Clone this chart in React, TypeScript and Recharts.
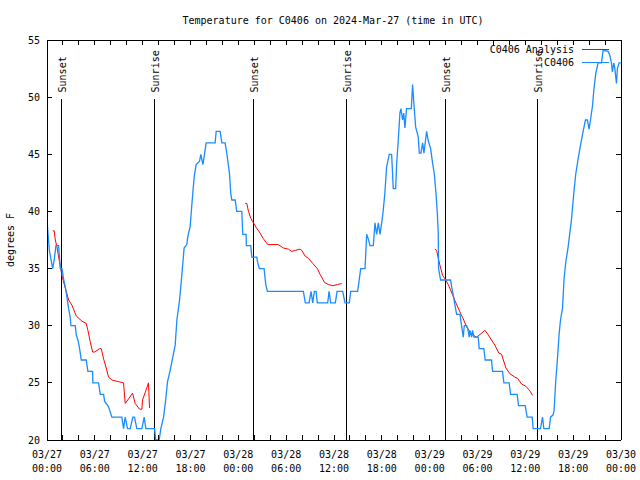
import React from 'react';
import { LineChart, Line, XAxis, YAxis, ReferenceLine } from 'recharts';

const FONT = "'DejaVu Sans Mono', 'Liberation Mono', monospace";
const BLUE = '#1a8cff';
const RED = '#ff0000';

// hours since 2024-03-27 00:00 UTC
const hourTicks = [0, 2, 4, 6, 8, 10, 12, 14, 16, 18, 20, 22, 24, 26, 28, 30, 32, 34, 36, 38, 40, 42, 44, 46, 48, 50, 52, 54, 56, 58, 60, 62, 64, 66, 68, 70, 72];
const dateLabels = ['03/27', '03/27', '03/27', '03/27', '03/28', '03/28', '03/28', '03/28', '03/29', '03/29', '03/29', '03/29', '03/30'];
const timeLabels = ['00:00', '06:00', '12:00', '18:00', '00:00', '06:00', '12:00', '18:00', '00:00', '06:00', '12:00', '18:00', '00:00'];
const tempTicks = [20, 25, 30, 35, 40, 45, 50, 55];

const sunNames = ['Sunset', 'Sunrise', 'Sunset', 'Sunrise', 'Sunset', 'Sunrise'];
const sunHours = [1.83, 13.49, 25.89, 37.55, 49.95, 61.48];

// C0406 observations [hour, degF]
const observed: [number, number][] = [
  [0, 39.2], [0.29, 36.6], [0.5, 35.8], [0.71, 35.0], [0.91, 35.8], [1.12, 37.0], [1.46, 37.0],
  [1.67, 35.0], [1.88, 35.0], [2.08, 34.1], [2.29, 33.4], [2.5, 32.5], [2.71, 31.5], [2.92, 30.7],
  [3.0, 30.0], [3.55, 30.0], [3.67, 29.2], [3.88, 28.75], [4.09, 28.0], [4.3, 27.0], [4.92, 27.0],
  [5.13, 26.0], [5.72, 26.0], [5.75, 25.0], [6.47, 25.0], [6.68, 24.0], [7.1, 24.0], [7.22, 23.4],
  [7.72, 22.9], [8.14, 22.0], [9.39, 22.0], [9.6, 21.0], [9.81, 22.0], [10.1, 21.0], [10.44, 21.0],
  [10.77, 22.0], [10.98, 22.0], [11.27, 21.0], [11.9, 21.0], [12.19, 22.0], [12.4, 21.0], [13.49, 21.0],
  [13.65, 20.0], [14.07, 20.0], [14.28, 21.0], [14.62, 22.0], [14.87, 23.4], [15.12, 25.1], [15.45, 26.1],
  [15.79, 27.3], [16.08, 28.3], [16.29, 30.5], [16.62, 32.2], [16.91, 34.4], [17.2, 36.8], [17.54, 37.1],
  [17.66, 37.8], [17.96, 38.7], [18.17, 40.6], [18.46, 43.0], [18.71, 44.1], [19.13, 44.4], [19.3, 45.0],
  [19.55, 44.1], [19.71, 44.8], [19.96, 46.0], [21.09, 46.0], [21.22, 47.0], [21.72, 47.0], [21.93, 46.0],
  [22.34, 46.0], [22.55, 45.1], [22.89, 43.3], [23.05, 41.6], [23.18, 41.0], [23.6, 41.0], [23.8, 40.0],
  [24.43, 40.0], [24.56, 38.0], [24.98, 38.0], [25.0, 37.0], [25.56, 37.0], [25.69, 36.0], [26.32, 36.0],
  [26.4, 35.6], [26.64, 35.0], [27.23, 35.0], [27.44, 33.6], [27.65, 33.0], [32.16, 33.0], [32.4, 32.0],
  [32.87, 32.0], [33.12, 33.0], [33.33, 32.0], [33.54, 33.0], [33.75, 33.0], [33.91, 32.0], [35.21, 32.0],
  [35.38, 33.0], [35.59, 32.0], [36.17, 32.0], [36.38, 33.0], [37.09, 33.0], [37.38, 32.0], [37.92, 32.0],
  [38.09, 33.0], [38.97, 33.0], [39.14, 33.9], [39.35, 35.0], [39.89, 35.0], [40.1, 38.0], [40.3, 37.6],
  [40.52, 37.0], [40.93, 37.0], [41.14, 39.0], [41.35, 38.0], [41.56, 39.0], [41.77, 38.0], [41.98, 39.0],
  [42.18, 40.1], [42.39, 41.7], [42.6, 43.9], [42.93, 45.0], [43.23, 45.0], [43.43, 42.0], [43.73, 42.0],
  [43.86, 44.2], [44.06, 46.2], [44.27, 48.6], [44.4, 49.0], [44.6, 48.0], [44.75, 48.6], [44.9, 47.3],
  [45.1, 49.0], [45.7, 49.0], [45.86, 51.1], [46.0, 49.6], [46.24, 47.4], [46.57, 46.5], [46.7, 45.1],
  [46.9, 45.1], [47.12, 46.0], [47.28, 45.1], [47.62, 47.0], [47.82, 46.2], [48.12, 45.5], [48.37, 44.2],
  [48.58, 43.3], [48.79, 41.6], [48.95, 40.0], [49.08, 38.0], [49.12, 35.0], [49.37, 34.0], [50.63, 34.0],
  [50.75, 33.4], [50.96, 32.7], [51.17, 31.8], [51.38, 31.0], [51.8, 31.0], [52.0, 30.0], [52.21, 29.0],
  [52.34, 30.0], [52.63, 30.0], [52.76, 29.8], [52.96, 29.0], [53.05, 29.6], [53.26, 29.0], [53.38, 29.6],
  [53.55, 29.0], [54.09, 29.0], [54.21, 28.0], [54.8, 28.0], [54.96, 27.0], [55.76, 27.0], [55.89, 26.0],
  [57.14, 26.0], [57.31, 25.0], [57.97, 25.0], [58.15, 24.0], [58.97, 24.0], [59.15, 23.0], [59.98, 23.0],
  [60.23, 22.0], [60.86, 22.0], [60.98, 21.0], [61.9, 21.0], [62.16, 22.0], [62.32, 21.0], [62.99, 21.0],
  [63.16, 22.0], [63.49, 22.2], [63.61, 22.6], [63.82, 25.25], [63.99, 26.7], [64.24, 29.3], [64.41, 30.5],
  [64.66, 31.5], [64.86, 34.1], [65.08, 35.6], [65.37, 36.9], [65.58, 38.1], [65.79, 39.3], [66.08, 41.6],
  [66.33, 43.3], [66.62, 44.6], [66.92, 45.8], [67.25, 47.0], [67.54, 48.0], [67.79, 48.0], [67.99, 47.2],
  [68.17, 48.0], [68.42, 49.2], [68.59, 50.6], [68.84, 52.1], [69.13, 53.0], [69.55, 53.0], [69.76, 54.1],
  [70.38, 54.0], [70.59, 53.7], [70.8, 53.0], [70.92, 52.2], [71.09, 53.0], [71.21, 52.6], [71.43, 51.2],
  [71.55, 52.5], [71.76, 53.0], [71.97, 53.0],
];

// C0406 Analysis, three runs
const analysisA: [number, number][] = [
  [0.71, 38.3], [0.91, 38.3], [1.04, 37.5], [1.25, 36.9], [1.46, 36.0], [1.67, 35.2], [1.88, 34.35],
  [2.17, 33.6], [2.5, 32.8], [2.71, 32.25], [3.13, 31.8], [3.67, 30.85], [4.38, 30.4], [4.92, 30.2],
  [5.13, 29.6], [5.42, 28.6], [5.72, 27.7], [5.97, 27.7], [6.6, 28.0], [6.8, 28.0], [7.1, 27.1],
  [7.43, 26.3], [7.72, 25.5], [8.14, 25.25], [8.98, 25.1], [9.6, 25.0], [9.81, 23.2], [10.23, 23.6],
  [10.73, 24.1], [11.06, 23.2], [11.6, 22.7], [11.9, 22.7], [11.98, 23.5], [12.44, 24.4], [12.73, 25.0],
  [12.86, 22.8],
];
const analysisB: [number, number][] = [
  [24.85, 40.7], [25.06, 40.7], [25.27, 40.0], [25.56, 39.4], [25.81, 39.1], [26.32, 38.5], [26.64, 38.2],
  [27.15, 37.6], [27.69, 37.1], [29.0, 37.1], [29.66, 36.8], [30.28, 36.7], [30.7, 36.5], [31.2, 36.6],
  [31.74, 36.7], [31.95, 36.6], [32.37, 36.1], [32.79, 35.9], [33.33, 35.45], [33.91, 35.0], [34.25, 34.5],
  [34.8, 33.8], [35.3, 33.6], [35.84, 33.5], [36.42, 33.6], [36.97, 33.7],
];
const analysisC: [number, number][] = [
  [48.66, 36.7], [48.87, 36.6], [49.08, 35.9], [49.29, 35.3], [49.62, 34.4], [50.04, 34.0], [50.46, 33.4],
  [50.87, 32.7], [51.29, 32.0], [51.8, 31.2], [52.21, 30.6], [52.63, 29.9], [53.26, 29.25], [53.88, 29.0],
  [54.43, 29.3], [54.93, 29.6], [55.35, 29.2], [55.76, 28.75], [56.18, 28.3], [56.68, 27.6], [57.02, 27.5],
  [57.56, 26.3], [58.06, 25.8], [58.69, 25.5], [59.03, 25.4], [59.53, 24.9], [60.07, 24.7], [60.57, 24.3],
  [60.9, 23.9],
];

const toRows = (pts: [number, number][]) => pts.map(([h, t]) => ({ h, t }));
const obsData = toRows(observed);
const gap = { h: null as any, t: null as any };
const analysisData = [...toRows(analysisA), { ...gap, h: 18 }, ...toRows(analysisB), { ...gap, h: 42 }, ...toRows(analysisC)];

const tickLine = (x1: number, y1: number, x2: number, y2: number) => (
  <line x1={x1} y1={y1} x2={x2} y2={y2} stroke="#000" shapeRendering="crispEdges" />
);

const BottomTick = ({ x, y, payload }: any) => {
  const v = payload.value as number;
  const i = v / 6;
  return (
    <g>
      {tickLine(x, y, x, y - 5)}
      {v % 6 === 0 && (
        <text textAnchor="middle" fontFamily={FONT} fontSize={10} fill="#000">
          <tspan x={x} y={y + 18}>{dateLabels[i]}</tspan>
          <tspan x={x} y={y + 32}>{timeLabels[i]}</tspan>
        </text>
      )}
    </g>
  );
};

const TopTick = ({ x, y }: any) => <g>{tickLine(x, y, x, y + 5)}</g>;

const LeftTick = ({ x, y, payload }: any) => (
  <g>
    {tickLine(x, y, x + 5, y)}
    <text x={x - 7} y={y} dy={3.6} textAnchor="end" fontFamily={FONT} fontSize={10} fill="#000">
      {payload.value}
    </text>
  </g>
);

const RightTick = ({ x, y }: any) => <g>{tickLine(x, y, x - 5, y)}</g>;

const SunLabel = ({ viewBox, text }: any) => {
  const x = viewBox.x;
  const y = viewBox.y - 7;
  return (
    <text x={x} y={y} dy={4.5} transform={`rotate(-90 ${x} ${y})`} textAnchor="start" fontFamily={FONT} fontSize={10} fill="#000">
      {text}
    </text>
  );
};

const textStyle: React.CSSProperties = {
  position: 'absolute',
  fontFamily: FONT,
  fontSize: 10,
  lineHeight: '12px',
  color: '#000',
  whiteSpace: 'nowrap',
};

export default function App() {
  return (
    <div style={{ position: 'absolute', left: 0, top: 0, width: 640, height: 480, background: '#fff', overflow: 'hidden' }}>
      <LineChart width={640} height={480} margin={{ top: 0, right: 0, bottom: 0, left: 0 }}>
        <XAxis
          xAxisId={0}
          dataKey="h"
          type="number"
          domain={[0, 72]}
          ticks={hourTicks}
          interval={0}
          height={40}
          tickSize={0}
          tickMargin={0}
          tickLine={false}
          axisLine={{ stroke: '#000', shapeRendering: 'crispEdges' }}
          tick={<BottomTick />}
          allowDataOverflow
        />
        <XAxis
          xAxisId="top"
          orientation="top"
          dataKey="h"
          type="number"
          domain={[0, 72]}
          ticks={hourTicks}
          interval={0}
          height={40}
          tickSize={0}
          tickMargin={0}
          tickLine={false}
          axisLine={{ stroke: '#000', shapeRendering: 'crispEdges' }}
          tick={<TopTick />}
          allowDataOverflow
        />
        <YAxis
          yAxisId={0}
          type="number"
          domain={[20, 55]}
          ticks={tempTicks}
          interval={0}
          width={47}
          tickSize={0}
          tickMargin={0}
          tickLine={false}
          axisLine={{ stroke: '#000', shapeRendering: 'crispEdges' }}
          tick={<LeftTick />}
          allowDataOverflow
        />
        <YAxis
          yAxisId="right"
          orientation="right"
          type="number"
          domain={[20, 55]}
          ticks={tempTicks}
          interval={0}
          width={19}
          tickSize={0}
          tickMargin={0}
          tickLine={false}
          axisLine={{ stroke: '#000', shapeRendering: 'crispEdges' }}
          tick={<RightTick />}
          allowDataOverflow
        />
        {sunHours.map((h, i) => (
          <ReferenceLine
            key={i}
            segment={[{ x: h, y: 49.8 }, { x: h, y: 20 }]}
            stroke="#000"
            strokeWidth={1}
            shapeRendering="crispEdges"
            ifOverflow="visible"
            label={<SunLabel text={sunNames[i]} />}
          />
        ))}
        <Line
          data={analysisData}
          dataKey="t"
          type="linear"
          stroke={RED}
          strokeWidth={1}
          dot={false}
          activeDot={false}
          connectNulls={false}
          isAnimationActive={false}
        />
        <Line
          data={obsData}
          dataKey="t"
          type="linear"
          stroke={BLUE}
          strokeWidth={1.3}
          dot={false}
          activeDot={false}
          isAnimationActive={false}
        />
      </LineChart>

      <div style={{ ...textStyle, top: 15, left: 13, width: 640, textAlign: 'center' }}>
        Temperature for C0406 on 2024-Mar-27 (time in UTC)
      </div>
      <div style={{ ...textStyle, left: 11, top: 240, transform: 'translate(-50%, -50%) rotate(-90deg)' }}>
        degrees F
      </div>

      <div style={{ ...textStyle, top: 44, right: 66, textAlign: 'right' }}>C0406 Analysis</div>
      <div style={{ position: 'absolute', top: 49, left: 582, width: 27, height: 1, background: RED }} />
      <div style={{ ...textStyle, top: 57, right: 66, textAlign: 'right' }}>C0406</div>
      <div style={{ position: 'absolute', top: 62, left: 582, width: 27, height: 1, background: BLUE }} />
    </div>
  );
}
